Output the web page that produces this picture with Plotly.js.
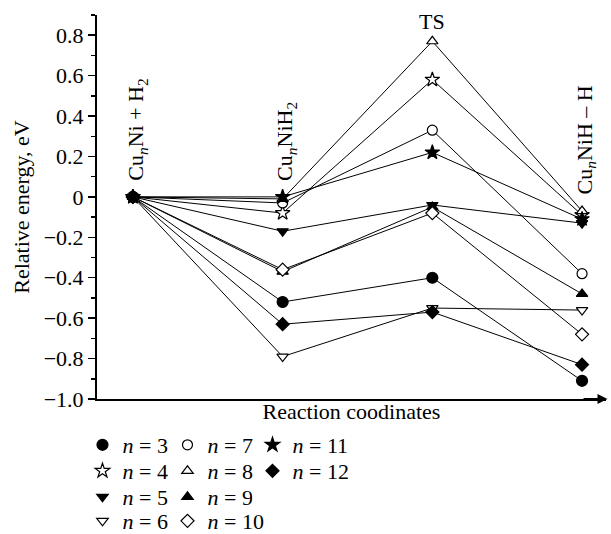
<!DOCTYPE html>
<html>
<head>
<meta charset="utf-8">
<script src="https://cdn.plot.ly/plotly-3.0.1.min.js"></script>
<style>html,body{margin:0;padding:0;background:#fff;}#chart{width:611px;height:534px;}</style>
</head>
<body>
<div id="chart"></div>
<script>
// Stage positions along reaction coordinate
const stages = [0, 1, 2, 3];
const stageLabels = [
  'Cu<sub><i>n</i></sub>Ni + H<sub>2</sub>',
  'Cu<sub><i>n</i></sub>NiH<sub>2</sub>',
  'TS',
  'Cu<sub><i>n</i></sub>NiH \u2013 H'
];

// Relative energies (eV) per cluster size n
const n3  = [0, -0.52, -0.40, -0.91];
const n4  = [0, -0.08,  0.58, -0.09];
const n5  = [0, -0.17, -0.04, -0.13];
const n6  = [0, -0.79, -0.55, -0.56];
const n7  = [0, -0.03,  0.33, -0.38];
const n8  = [0, -0.01,  0.77, -0.07];
const n9  = [0, -0.37, -0.05, -0.48];
const n10 = [0, -0.36, -0.08, -0.68];
const n11 = [0,  0.00,  0.22, -0.11];
const n12 = [0, -0.63, -0.57, -0.83];

const yTickVals = [0.8, 0.6, 0.4, 0.2, 0, -0.2, -0.4, -0.6, -0.8, -1.0];
const yTickText = ['0.8', '0.6', '0.4', '0.2', '0', '\u22120.2', '\u22120.4', '\u22120.6', '\u22120.8', '\u22121.0'];

const FONT = '"Liberation Serif", "Times New Roman", serif';

// legend rows (legend ids) as in the reference's 3-column key
const series = [
  {n: 3,  y: n3,  symbol: 'circle',        fill: 'black', size: 11, legend: 'legend',  lw: 40},
  {n: 4,  y: n4,  symbol: 'star',          fill: 'white', size: 11, legend: 'legend2', lw: 40},
  {n: 5,  y: n5,  symbol: 'triangle-down', fill: 'black', size: 10, legend: 'legend3', lw: 40},
  {n: 6,  y: n6,  symbol: 'triangle-down', fill: 'white', size: 10, legend: 'legend4', lw: 40},
  {n: 7,  y: n7,  symbol: 'circle',        fill: 'white', size: 10, legend: 'legend',  lw: 40},
  {n: 8,  y: n8,  symbol: 'triangle-up',   fill: 'white', size: 10, legend: 'legend2', lw: 40},
  {n: 9,  y: n9,  symbol: 'triangle-up',   fill: 'black', size: 10, legend: 'legend3', lw: 40},
  {n: 10, y: n10, symbol: 'diamond',       fill: 'white', size: 10, legend: 'legend4', lw: 75},
  {n: 11, y: n11, symbol: 'star',          fill: 'black', size: 11, legend: 'legend',  lw: 75},
  {n: 12, y: n12, symbol: 'diamond',       fill: 'black', size: 10, legend: 'legend2', lw: 75}
];

const traces = [];
series.forEach(s => {
  traces.push({
    x: stages, y: s.y, mode: 'lines', type: 'scatter',
    line: {color: 'black', width: 1}, showlegend: false, hoverinfo: 'skip'
  });
});
series.forEach(s => {
  traces.push({
    x: stages, y: s.y, mode: 'markers', type: 'scatter',
    name: '<i>n</i> = ' + s.n,
    legend: s.legend, legendwidth: s.lw,
    marker: {symbol: s.symbol, size: s.size, color: s.fill, line: {color: 'black', width: 1.2}}
  });
});

function rowLegend(yc) {
  return {
    orientation: 'h', xref: 'container', yref: 'container',
    x: 0.135, xanchor: 'left', y: yc, yanchor: 'middle',
    entrywidth: 40, entrywidthmode: 'pixels',
    font: {family: FONT, size: 22, color: 'black'},
    bgcolor: 'rgba(0,0,0,0)', borderwidth: 0, tracegroupgap: 0, itemwidth: 30
  };
}

const annotations = stageLabels.map((t, i) => {
  const a = {
    x: stages[i], xref: 'x', yref: 'y', text: t, showarrow: false,
    font: {family: FONT, size: 22, color: 'black'}
  };
  if (i === 2) {
    a.y = 0.87; a.yanchor = 'middle'; a.xanchor = 'center';
  } else {
    a.textangle = -90; a.yanchor = 'bottom'; a.xanchor = 'center';
    a.y = (i === 3) ? 0.0 : 0.07; a.xshift = 4;
  }
  return a;
});
annotations.push({
  x: 3.17, y: -1.0, ax: 3.0, ay: -1.0, xref: 'x', yref: 'y', axref: 'x', ayref: 'y',
  text: '', showarrow: true, arrowhead: 2, arrowsize: 1, arrowwidth: 2, arrowcolor: 'black'
});

const layout = {
  width: 611, height: 534,
  margin: {l: 97, r: 5, t: 15, b: 135},
  paper_bgcolor: 'white', plot_bgcolor: 'white',
  font: {family: FONT, size: 22, color: 'black'},
  xaxis: {
    range: [-0.24, 3.16], showline: true, linewidth: 2, linecolor: 'black',
    showgrid: false, zeroline: false, showticklabels: false, ticks: '',
    automargin: false,
    title: {text: 'Reaction coodinates', font: {family: FONT, size: 22}, standoff: 4}
  },
  yaxis: {
    range: [-1.0, 0.9], showline: true, linewidth: 2, linecolor: 'black',
    showgrid: false, zeroline: false, automargin: false,
    tickmode: 'array', tickvals: yTickVals, ticktext: yTickText,
    ticks: 'outside', ticklen: 7, tickwidth: 1.5, tickcolor: 'black',
    minor: {dtick: 0.1, ticks: 'outside', ticklen: 4, tickwidth: 1.5, tickcolor: 'black', showgrid: false},
    tickfont: {family: FONT, size: 22},
    title: {text: 'Relative energy, eV', font: {family: FONT, size: 22}, standoff: 8}
  },
  showlegend: true,
  legend:  rowLegend(1 - 445 / 534),
  legend2: rowLegend(1 - 471 / 534),
  legend3: rowLegend(1 - 497 / 534),
  legend4: rowLegend(1 - 521 / 534),
  annotations: annotations
};

Plotly.newPlot('chart', traces, layout, {displayModeBar: false, staticPlot: true});
</script>
</body>
</html>
